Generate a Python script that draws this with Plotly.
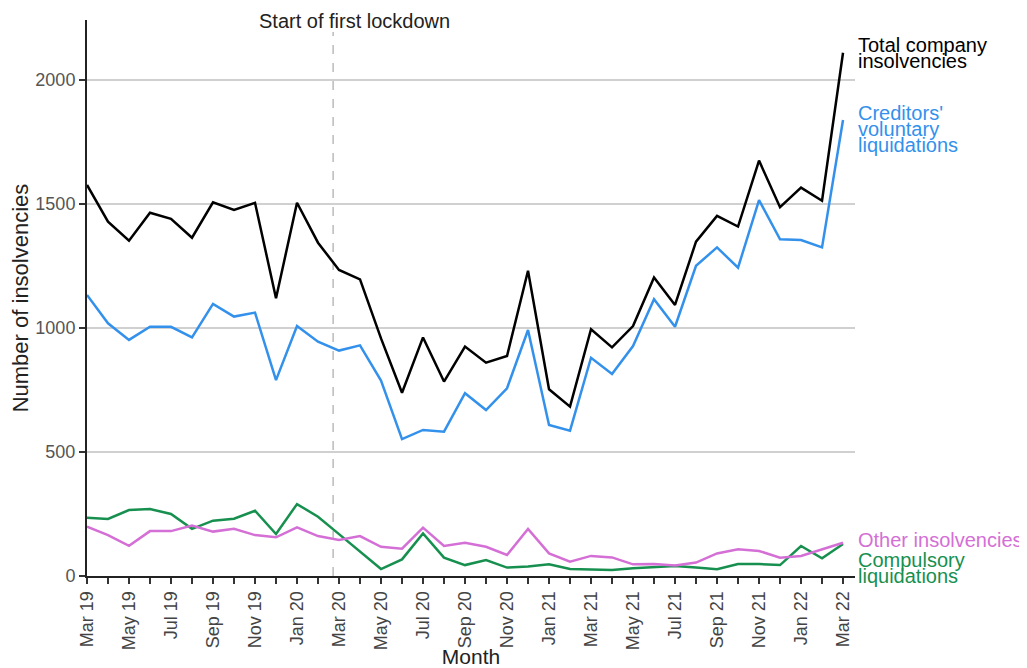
import plotly.graph_objects as go

months = ["Mar 19", "Apr 19", "May 19", "Jun 19", "Jul 19", "Aug 19", "Sep 19", "Oct 19", "Nov 19", "Dec 19",
          "Jan 20", "Feb 20", "Mar 20", "Apr 20", "May 20", "Jun 20", "Jul 20", "Aug 20", "Sep 20", "Oct 20",
          "Nov 20", "Dec 20", "Jan 21", "Feb 21", "Mar 21", "Apr 21", "May 21", "Jun 21", "Jul 21", "Aug 21",
          "Sep 21", "Oct 21", "Nov 21", "Dec 21", "Jan 22", "Feb 22", "Mar 22"]

total = [1577, 1429, 1352, 1465, 1440, 1364, 1507, 1476, 1505, 1120, 1505, 1344,
         1234, 1196, 958, 739, 962, 784, 925, 860, 887, 1231, 753, 683,
         995, 922, 1008, 1204, 1093, 1348, 1452, 1409, 1675, 1487, 1566, 1513, 2110]
creditors = [1133, 1019, 952, 1005, 1005, 962, 1097, 1046, 1062, 790, 1008, 945,
             909, 930, 788, 552, 589, 582, 737, 669, 757, 992, 609, 586,
             880, 815, 927, 1116, 1005, 1251, 1325, 1243, 1516, 1358, 1355, 1325, 1839]
compulsory = [235, 230, 266, 270, 250, 190, 223, 231, 263, 169, 290, 239,
              169, 98, 28, 67, 172, 74, 44, 64, 34, 38, 47, 28,
              27, 24, 31, 35, 40, 34, 27, 48, 48, 44, 121, 71, 129]
other = [199, 165, 122, 181, 181, 203, 179, 190, 165, 156, 196, 161,
         145, 161, 118, 110, 195, 121, 134, 118, 85, 190, 91, 58,
         81, 75, 47, 48, 42, 54, 91, 108, 101, 74, 81, 108, 134]

lockdown_x = 11.72  # position of "Start of first lockdown" marker (month index)

series = [
    ("Compulsory liquidations", compulsory, "#17904f"),
    ("Other insolvencies", other, "#d46fd6"),
    ("Creditors' voluntary liquidations", creditors, "#3391ec"),
    ("Total company insolvencies", total, "#000000"),
]

x = list(range(len(months)))
fig = go.Figure()
for name, vals, col in series:
    fig.add_trace(go.Scatter(x=x, y=vals, mode="lines", name=name,
                             line=dict(color=col, width=2.5), showlegend=False))

FONT = "Liberation Sans, Arial, sans-serif"

# page is offset by the 8px body margin; plot area spans page y 20..576
OFF = 8
def py(p):
    return (576 - p) / 556.0

labels = [
    ("Total company", 45, "#000000"),
    ("insolvencies", 61, "#000000"),
    ("Creditors'", 113, "#3391ec"),
    ("voluntary", 129, "#3391ec"),
    ("liquidations", 145, "#3391ec"),
    ("Other insolvencies", 540, "#d46fd6"),
    ("Compulsory", 560, "#17904f"),
    ("liquidations", 576, "#17904f"),
]
annotations = []
for txt, p, col in labels:
    annotations.append(dict(text=txt, xref="paper", yref="paper", x=1.0, y=py(p),
                            xanchor="left", yanchor="middle", xshift=1, showarrow=False,
                            font=dict(family=FONT, size=20, color=col)))
annotations.append(dict(text="Start of first lockdown", xref="x", yref="paper",
                        x=lockdown_x, y=py(21), xanchor="center", yanchor="middle",
                        xshift=21, showarrow=False,
                        font=dict(family=FONT, size=20, color="#222222")))

fig.add_shape(type="line", xref="x", yref="paper", x0=lockdown_x, x1=lockdown_x,
              y0=0, y1=py(32), line=dict(color="#bbbbbb", width=1.5, dash="dash"), layer="below")

ticktext = [m if i % 2 == 0 else "" for i, m in enumerate(months)]

fig.update_layout(
    width=1019, height=660,
    margin=dict(l=87 - OFF, r=172, t=20 - OFF, b=92),
    plot_bgcolor="white", paper_bgcolor="white",
    font=dict(family=FONT),
    annotations=annotations,
    xaxis=dict(
        range=[0, 36.57], tickmode="array", tickvals=x, ticktext=ticktext,
        tickangle=-90, ticks="outside", ticklen=6, tickcolor="#333333", tickwidth=1.5,
        showline=True, linecolor="#222222", linewidth=2, showgrid=False, zeroline=False,
        tickfont=dict(family=FONT, size=18, color="#444444"), automargin=False,
        title=dict(text="Month", font=dict(family=FONT, size=21, color="#222222"), standoff=2),
    ),
    yaxis=dict(
        range=[0, 2242], tickvals=[0, 500, 1000, 1500, 2000],
        ticks="outside", ticklen=6, tickcolor="#333333", tickwidth=1.5,
        showline=True, linecolor="#222222", linewidth=2,
        showgrid=True, gridcolor="#d0d0d0", gridwidth=1.5, zeroline=False,
        tickfont=dict(family=FONT, size=18, color="#555555"), automargin=False,
        title=dict(text="Number of insolvencies", font=dict(family=FONT, size=22, color="#222222"), standoff=6),
    ),
)

fig.write_html("out.html")
